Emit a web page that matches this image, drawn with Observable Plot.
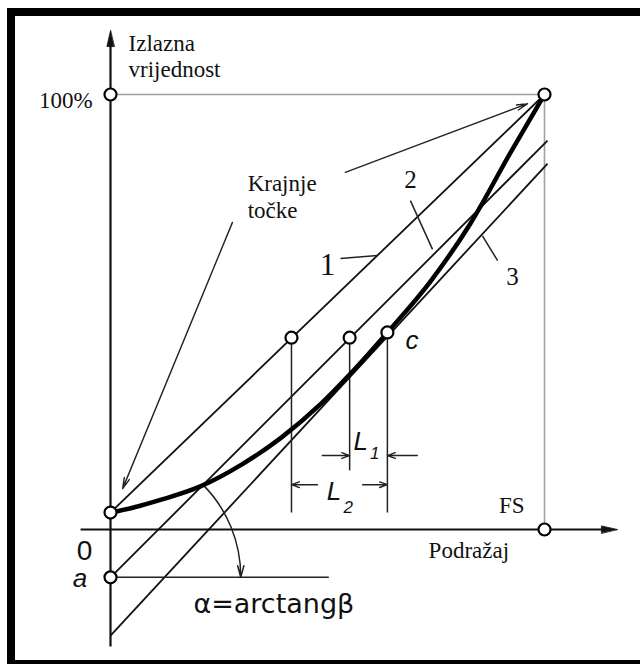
<!DOCTYPE html>
<html><head><meta charset="utf-8">
<script src="https://cdn.jsdelivr.net/npm/d3@7"></script>
<script src="https://cdn.jsdelivr.net/npm/@observablehq/plot@0.6"></script>
<style>body{margin:0;background:#fff;overflow:hidden}#chart svg{display:block}</style>
</head><body><div id="chart"></div>
<script>
// Static characteristic (stimulus in % of FS, output in %)
const curveX = [0, 5.1, 11.5, 20.7, 30.0, 39.2, 48.4, 55.1, 63.8, 73.7, 82.9, 92.2, 100];
const curveY = [3.9, 5.0, 6.8, 9.9, 14.8, 21.0, 28.8, 35.6, 45.3, 57.0, 70.3, 86.7, 100];

// Reference straight lines 1, 2, 3 (start and end points)
const lineNames = ["1", "2", "3"];
const lineX0 = [0, 0, 0];
const lineY0 = [3.9, -11.0, -24.4];
const lineX1 = [100, 100.7, 100.7];
const lineY1 = [100, 89.4, 84.1];

// Marked points (open circles)
const pointNames = ["100%", "end", "start", "a", "FS", "p1", "p2", "c"];
const pointX = [0, 100, 0, 0, 100, 41.7, 55.1, 63.8];
const pointY = [100, 100, 3.9, -11.0, 0, 44.1, 44.1, 45.3];

// Axis extents
const xAxisFrom = -6.9, xAxisTo = 116.8;
const yAxisFrom = -26.9, yAxisTo = 114.7;

const lines = lineNames.map((n, i) => ({name: n, x1: lineX0[i], y1: lineY0[i], x2: lineX1[i], y2: lineY1[i]}));
const curve = curveX.map((x, i) => ({x, y: curveY[i]}));
const points = pointNames.map((n, i) => ({name: n, x: pointX[i], y: pointY[i]}));

// construction lines
const guides = [
  {x1: 0, y1: 100, x2: 100, y2: 100},
  {x1: 100, y1: 100, x2: 100, y2: 0}
];
const axes = [
  {x1: 0, y1: yAxisFrom, x2: 0, y2: yAxisTo - 2},
  {x1: xAxisFrom, y1: 0, x2: xAxisTo - 2, y2: 0}
];
const axisHeads = [
  {x: 0, y: yAxisTo, rot: 0},
  {x: xAxisTo, y: 0, rot: 90}
];
const drop = [
  {x1: 41.7, y1: 44.1, x2: 41.7, y2: 3.9},
  {x1: 55.1, y1: 44.1, x2: 55.1, y2: 13.6},
  {x1: 63.8, y1: 45.3, x2: 63.8, y2: 3.9},
  {x1: 0, y1: -11.0, x2: 50.3, y2: -11.0}
];
const dims = [
  {x1: 48.8, y1: 17.0, x2: 55.1, y2: 17.0},
  {x1: 70.7, y1: 17.0, x2: 63.8, y2: 17.0},
  {x1: 47.7, y1: 10.3, x2: 41.7, y2: 10.3},
  {x1: 58.1, y1: 10.3, x2: 63.8, y2: 10.3}
];
const pointers = [
  {x1: 28.1, y1: 70.6, x2: 2.8, y2: 9.4},
  {x1: 54.1, y1: 82.1, x2: 96.1, y2: 97.9}
];
const leaders = [
  {x1: 53.0, y1: 62.3, x2: 61.5, y2: 63.0},
  {x1: 69.1, y1: 75.6, x2: 74.2, y2: 64.4},
  {x1: 85.7, y1: 67.5, x2: 89.2, y2: 61.8}
];
const angleArc = [{x1: 21.4, y1: 10.2, x2: 30.0, y2: -11.0}];

const serif = "Liberation Serif";
const sans = "Liberation Sans";
const startLabels = [
  {t: "Izlazna", x: 4.15, y: 110.1},
  {t: "vrijednost", x: 4.15, y: 104.0},
  {t: "Krajnje", x: 31.6, y: 77.9},
  {t: "točke", x: 31.6, y: 71.5},
  {t: "FS", x: 89.5, y: 3.9},
  {t: "Podražaj", x: 73.3, y: -6.6}
];
const endLabels = [{t: "100%", x: -4.1, y: 96.9}];
const lineLabels = [
  {t: "2", x: 69.1, y: 78.4},
  {t: "3", x: 92.6, y: 56.1}
];
const oneLabel = [{t: "1", x: 50.0, y: 58.4}];
const italicLabels = [
  {t: "c", x: 68.0, y: 41.6},
  {t: "L", x: 56.0, y: 18.2},
  {t: "L", x: 49.8, y: 6.8},
  {t: "a", x: -8.7, y: -13.3}
];
const subLabels = [
  {t: "1", x: 59.8, y: 16.2},
  {t: "2", x: 53.7, y: 3.8}
];

const triangle = {
  draw(context, l, r) {
    context.moveTo(0, -l);
    context.lineTo(-r, 0);
    context.lineTo(r, 0);
    context.closePath();
  }
};
const L = {x1: "x1", y1: "y1", x2: "x2", y2: "y2"};

const plot = Plot.plot({
  width: 640, height: 664,
  marginLeft: 110, marginRight: 96, marginTop: 94, marginBottom: 135,
  x: {domain: [0, 100], axis: null},
  y: {domain: [0, 100], axis: null},
  style: {background: "white"},
  marks: [
    Plot.link(guides, {...L, stroke: "#a0a0a0", strokeWidth: 1.6}),
    Plot.link(axes, {...L, stroke: "#111", strokeWidth: 2.2}),
    Plot.vector(axisHeads, {x: "x", y: "y", rotate: "rot", length: 16, r: 3.6, anchor: "end", shape: triangle, fill: "#111", stroke: "#111", strokeWidth: 0.8}),
    Plot.link(lines, {...L, stroke: "#111", strokeWidth: 1.8}),
    Plot.link(drop, {...L, stroke: "#222", strokeWidth: 1.5}),
    Plot.arrow(dims, {...L, stroke: "#222", strokeWidth: 1.4, headLength: 9, headAngle: 40}),
    Plot.arrow(pointers, {...L, stroke: "#222", strokeWidth: 1.4, headLength: 12, headAngle: 28}),
    Plot.link(leaders, {...L, stroke: "#222", strokeWidth: 1.5}),
    Plot.arrow(angleArc, {...L, bend: 22.5, stroke: "#222", strokeWidth: 1.5, headLength: 12, headAngle: 30}),
    Plot.line(curve, {x: "x", y: "y", curve: "monotone-x", stroke: "#000", strokeWidth: 4.5}),
    Plot.dot(points, {x: "x", y: "y", r: 6, fill: "white", stroke: "#000", strokeWidth: 2.2}),
    Plot.text(startLabels, {x: "x", y: "y", text: "t", textAnchor: "start", lineAnchor: "bottom", fontFamily: serif, fontSize: 23, fill: "#111"}),
    Plot.text(endLabels, {x: "x", y: "y", text: "t", textAnchor: "end", lineAnchor: "bottom", fontFamily: serif, fontSize: 23, fill: "#111"}),
    Plot.text(lineLabels, {x: "x", y: "y", text: "t", textAnchor: "middle", lineAnchor: "bottom", fontFamily: serif, fontSize: 25, fill: "#111"}),
    Plot.text(oneLabel, {x: "x", y: "y", text: "t", textAnchor: "middle", lineAnchor: "bottom", fontFamily: serif, fontSize: 31, fill: "#111"}),
    Plot.text(italicLabels, {x: "x", y: "y", text: "t", textAnchor: "start", lineAnchor: "bottom", fontFamily: sans, fontStyle: "italic", fontSize: 26, fill: "#111"}),
    Plot.text(subLabels, {x: "x", y: "y", text: "t", textAnchor: "start", lineAnchor: "bottom", fontFamily: sans, fontStyle: "italic", fontSize: 17, fill: "#111"}),
    Plot.text(["0"], {x: -6.0, y: -7.1, text: d => d, textAnchor: "middle", lineAnchor: "bottom", fontFamily: sans, fontSize: 28, fill: "#111"}),
    Plot.text(["α=arctangβ"], {x: 19.1, y: -19.1, text: d => d, textAnchor: "start", lineAnchor: "bottom", fontFamily: "DejaVu Sans", fontSize: 27, fill: "#111"})
  ]
});
document.getElementById("chart").appendChild(plot);
const svg = d3.select(plot);
svg.append("rect").attr("x", 11).attr("y", 12).attr("width", 700).attr("height", 652)
  .attr("fill", "none").attr("stroke", "#000").attr("stroke-width", 8);
</script>
</body></html>
